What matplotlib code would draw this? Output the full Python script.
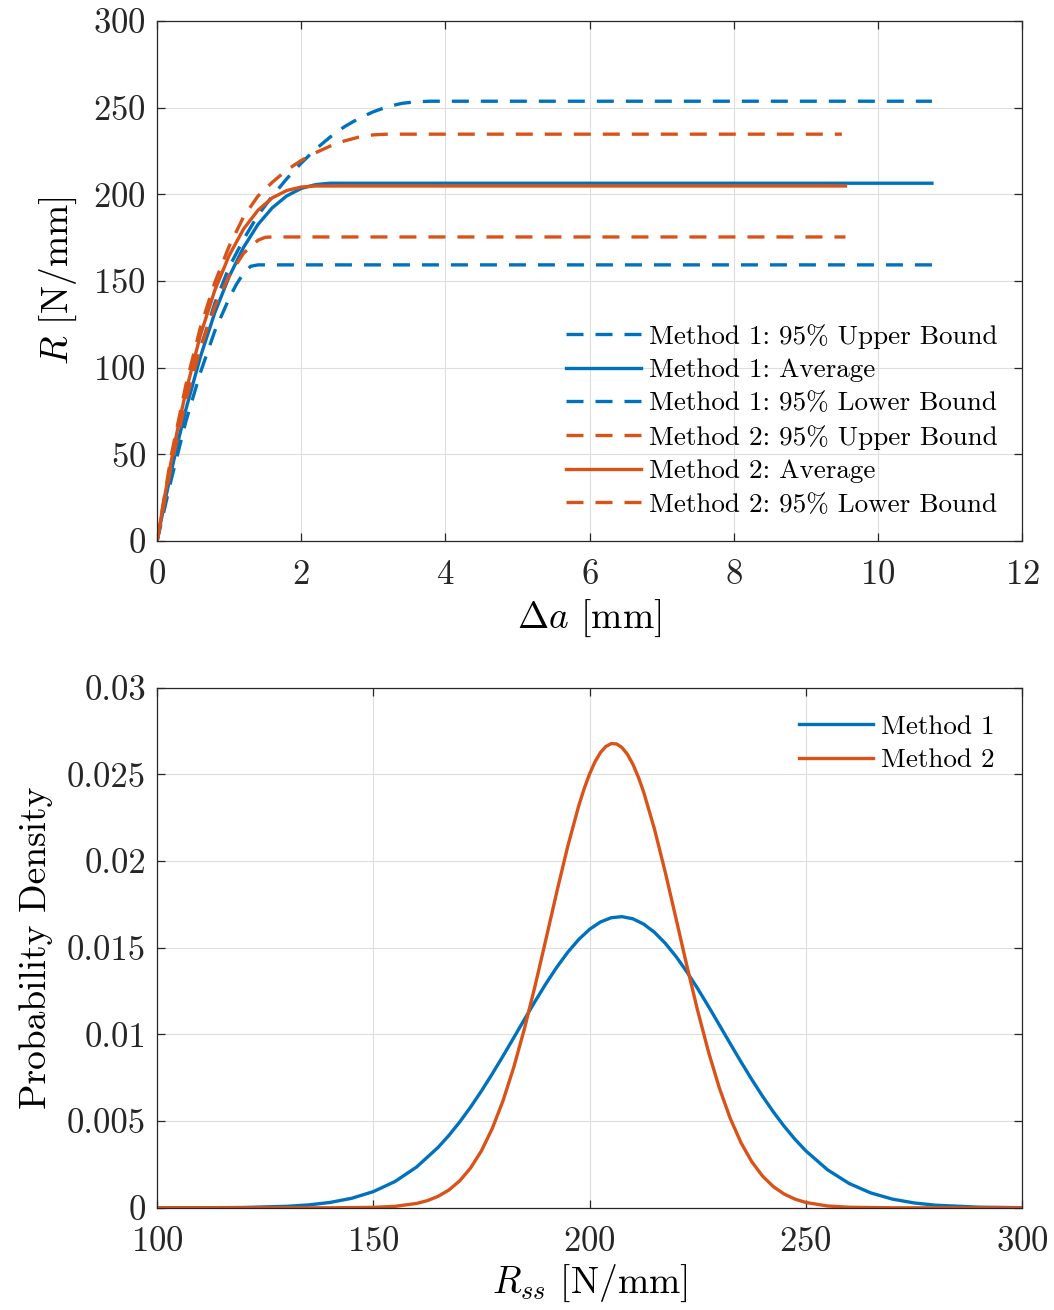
import matplotlib
matplotlib.use("Agg")
import matplotlib.pyplot as plt

# ---- top panel: R-curves ----
m1_avg_da = [0, 0.1, 0.2, 0.3, 0.4, 0.6, 0.8, 1.0, 1.2, 1.4, 1.6, 1.8, 2.0, 2.2, 2.4, 10.75]
m1_avg_r = [0, 21.0, 40.6, 58.9, 75.9, 106.1, 131.6, 152.5, 169.4, 182.6, 192.3, 199.1, 203.4, 205.6, 206.4, 206.4]

m1_up_da = [0, 0.2, 0.4, 0.6, 0.8, 1.0, 1.2, 1.4, 1.6, 1.8, 2.0, 2.2, 2.4, 2.6, 2.8, 3.0, 3.2, 3.4, 3.6, 3.8, 10.75]
m1_up_r = [0, 42, 80, 111, 137, 158, 174, 188, 199, 209, 218, 226, 233, 239, 243.8, 247.6, 250.6, 252.5, 253.4, 253.7, 253.7]

m1_lo_da = [0, 0.2, 0.4, 0.6, 0.8, 1.0, 1.1, 1.2, 1.3, 1.4, 10.75]
m1_lo_r = [0, 36, 69, 97, 121, 140, 148, 154.5, 158.5, 159.3, 159.3]

m2_avg_da = [0, 0.1, 0.2, 0.3, 0.4, 0.6, 0.8, 1.0, 1.2, 1.4, 1.6, 1.8, 2.0, 2.2, 9.55]
m2_avg_r = [0, 24.5, 46.9, 67.5, 86.2, 118.5, 144.5, 164.7, 180.0, 190.8, 198.0, 202.2, 204.2, 204.8, 204.8]

m2_up_da = [0, 0.2, 0.4, 0.6, 0.8, 1.0, 1.2, 1.4, 1.6, 1.8, 2.0, 2.2, 2.4, 2.6, 2.8, 3.0, 3.2, 9.5]
m2_up_r = [0, 50, 90, 123, 149, 170, 187, 199, 207, 214, 219.5, 224, 227.8, 230.8, 233, 234.3, 234.7, 234.7]

m2_lo_da = [0, 0.2, 0.4, 0.6, 0.8, 1.0, 1.2, 1.4, 1.5, 1.6, 9.55]
m2_lo_r = [0, 44, 81, 111, 135, 153, 166, 173.5, 175.2, 175.4, 175.4]

# ---- bottom panel: probability density of R_ss ----
m1_rss = [100, 110, 120, 130, 135, 140, 145, 150, 155, 160, 165, 167.5, 170, 172.5, 175,
          177.5, 180, 182.5, 185, 187.5, 190, 192.5, 195, 197.5, 200, 202.5, 205, 207.5,
          210, 212.5, 215, 217.5, 220, 222.5, 225, 227.5, 230, 232.5, 235, 237.5, 240,
          242.5, 245, 247.5, 250, 255, 260, 265, 270, 275, 280, 290, 300]
m1_pdf = [0.0000007, 0.0000039, 0.000020, 0.000087, 0.000167, 0.000310, 0.000550, 0.000934,
          0.001515, 0.002352, 0.003491, 0.004183, 0.004959, 0.005813, 0.006739,
          0.007726, 0.008760, 0.009824, 0.010895, 0.011949, 0.012963, 0.013906, 0.014754,
          0.015480, 0.016064, 0.016486, 0.016733, 0.016796,
          0.016673, 0.016369, 0.015894, 0.015262, 0.014494, 0.013613, 0.012645, 0.011616,
          0.010553, 0.009481, 0.008426, 0.007404, 0.006435,
          0.005531, 0.004702, 0.003953, 0.003287, 0.002198, 0.001406, 0.000860, 0.000504,
          0.000282, 0.000151, 0.000038, 0.000008]

m2_rss = [100, 120, 140, 150, 155, 160, 162.5, 165, 167.5, 170, 172.5, 175, 177.5, 180,
          182.5, 185, 187.5, 190, 192.5, 195, 197.5, 198.75, 200, 201.25, 202.5, 203.75,
          205, 206.25, 207.5, 208.75, 210, 211.25, 212.5, 215, 217.5, 220, 222.5,
          225, 227.5, 230, 232.5, 235, 237.5, 240, 242.5, 245, 247.5, 250, 255, 260,
          270, 280, 300]
m2_pdf = [0.0, 0.0, 0.0000017, 0.0000258, 0.000085, 0.000252, 0.000414, 0.000663, 0.001032,
          0.001562, 0.002299, 0.003288, 0.004573, 0.006182,
          0.008127, 0.010385, 0.012903, 0.015586, 0.018303, 0.020895, 0.023193, 0.024176,
          0.025026, 0.025724, 0.026254, 0.026608,
          0.026778, 0.026759, 0.026552, 0.026162, 0.025597, 0.024868, 0.023990, 0.021859,
          0.019364, 0.016677, 0.013963,
          0.011366, 0.008994, 0.006921, 0.005176, 0.003764, 0.002661, 0.001829, 0.001222,
          0.000794, 0.000502, 0.000308, 0.000107, 0.000033,
          0.0000023, 0.0, 0.0]

top_labels = ["Method 1: 95% Upper Bound", "Method 1: Average", "Method 1: 95% Lower Bound",
              "Method 2: 95% Upper Bound", "Method 2: Average", "Method 2: 95% Lower Bound"]
bottom_labels = ["Method 1", "Method 2"]

top_xticks = [0, 2, 4, 6, 8, 10, 12]
top_yticks = [0, 50, 100, 150, 200, 250, 300]
bot_xticks = [100, 150, 200, 250, 300]
bot_yticks = [0, 0.005, 0.01, 0.015, 0.02, 0.025, 0.03]
bot_yticklabels = ["0", "0.005", "0.01", "0.015", "0.02", "0.025", "0.03"]

BLUE = "#0072BD"
ORANGE = "#D95319"

plt.rcParams["font.family"] = "serif"
plt.rcParams["font.serif"] = ["cmr10", "DejaVu Serif"]
plt.rcParams["mathtext.fontset"] = "cm"
plt.rcParams["axes.formatter.use_mathtext"] = True
plt.rcParams["axes.unicode_minus"] = False


def style_axes(ax):
    for sp in ax.spines.values():
        sp.set_color("#262626")
        sp.set_linewidth(0.9)
    ax.tick_params(direction="in", top=True, right=True, length=6, width=0.9,
                   color="#262626", labelsize=25, labelcolor="#262626")
    ax.tick_params(axis="x", pad=13)
    ax.tick_params(axis="y", pad=8)
    ax.grid(True, color="#dedede", linewidth=0.8)
    ax.set_axisbelow(True)


fig = plt.figure(figsize=(10.54, 13.10), dpi=100)
ax1 = fig.add_axes([0.149, 0.587, 0.8207, 0.397])
ax2 = fig.add_axes([0.149, 0.078, 0.8207, 0.397])

lw = 2.4
dash = (5.1, 3.6)
ax1.plot(m1_up_da, m1_up_r, color=BLUE, lw=lw, dashes=dash, label=top_labels[0])
ax1.plot(m1_avg_da, m1_avg_r, color=BLUE, lw=lw, label=top_labels[1])
ax1.plot(m1_lo_da, m1_lo_r, color=BLUE, lw=lw, dashes=dash, label=top_labels[2])
ax1.plot(m2_up_da, m2_up_r, color=ORANGE, lw=lw, dashes=dash, label=top_labels[3])
ax1.plot(m2_avg_da, m2_avg_r, color=ORANGE, lw=lw, label=top_labels[4])
ax1.plot(m2_lo_da, m2_lo_r, color=ORANGE, lw=lw, dashes=dash, label=top_labels[5])

ax1.set_xlim(0, 12)
ax1.set_ylim(0, 300)
ax1.set_xticks(top_xticks)
ax1.set_yticks(top_yticks)
style_axes(ax1)
ax1.set_xlabel(r"$\Delta a$ [mm]", fontsize=27, labelpad=5)
ax1.set_ylabel(r"$R$ [N/mm]", fontsize=27, labelpad=10)
ax1.legend(loc="lower right", frameon=False, fontsize=19.5, handlelength=2.75,
           handletextpad=0.3, labelspacing=0.35, borderaxespad=0.5)

ax2.plot(m1_rss, m1_pdf, color=BLUE, lw=lw, label=bottom_labels[0])
ax2.plot(m2_rss, m2_pdf, color=ORANGE, lw=lw, label=bottom_labels[1])
ax2.set_xlim(100, 300)
ax2.set_ylim(0, 0.03)
ax2.set_xticks(bot_xticks)
ax2.set_yticks(bot_yticks)
ax2.set_yticklabels(bot_yticklabels)
style_axes(ax2)
ax2.set_xlabel(r"$R_{ss}$ [N/mm]", fontsize=27, labelpad=4)
ax2.set_ylabel("Probability Density", fontsize=27, labelpad=10)
ax2.legend(loc="upper right", frameon=False, fontsize=19.5, handlelength=2.75,
           handletextpad=0.3, labelspacing=0.35, borderaxespad=0.6)

fig.savefig("out.png", dpi=100)
